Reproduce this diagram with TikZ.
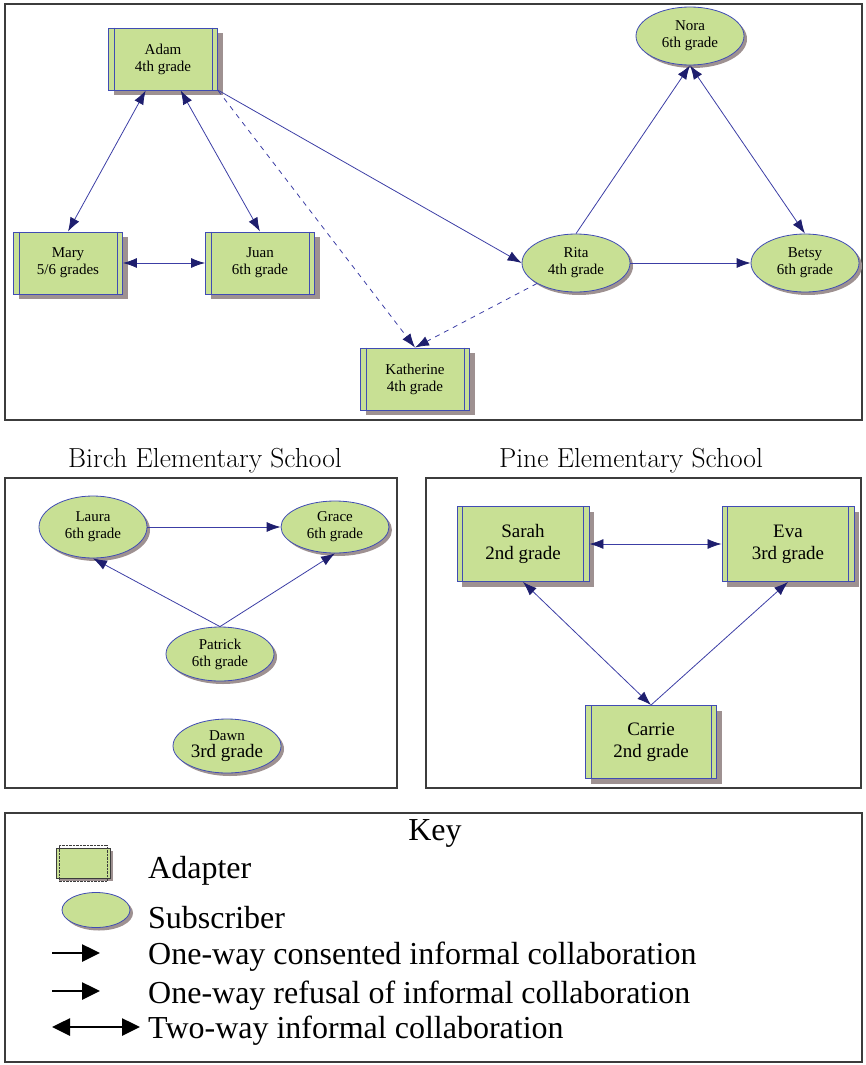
\documentclass[tikz,border=0pt]{standalone}
\usepackage{fontspec}
\newfontfamily\nodefont{Liberation Serif}
\usetikzlibrary{arrows.meta, shapes, shadows, positioning}

\definecolor{leaf}{RGB}{200,224,148}
\definecolor{boxblue}{RGB}{64,76,180}
\definecolor{edgeblue}{RGB}{60,62,165}
\definecolor{tipnavy}{RGB}{30,30,110}
\definecolor{shade}{RGB}{158,145,145}
\definecolor{framegray}{RGB}{60,60,60}

\begin{document}
\begin{tikzpicture}[x=1pt,y=-1pt,>={Latex[length=14pt,width=10pt,color=tipnavy]}]
  \tikzstyle{adapter} = [rectangle, draw=boxblue, line width=0.9pt, fill=leaf, inner sep=0pt,
    minimum width=109pt, minimum height=62pt, align=center,
    font=\nodefont\fontsize{15}{17}\selectfont,
    drop shadow={shadow xshift=5pt, shadow yshift=-5pt, fill=shade, opacity=1},
    append after command={
      ([xshift=6pt]\tikzlastnode.north west) edge[draw=boxblue, line width=0.9pt, -] ([xshift=6pt]\tikzlastnode.south west)
      ([xshift=-6pt]\tikzlastnode.north east) edge[draw=boxblue, line width=0.9pt, -] ([xshift=-6pt]\tikzlastnode.south east)}]
  \tikzstyle{subscriber} = [ellipse, draw=boxblue, line width=0.8pt, fill=leaf, inner sep=1pt,
    minimum width=108pt, minimum height=58pt, align=center,
    font=\nodefont\fontsize{15}{17}\selectfont,
    drop shadow={shadow xshift=3pt, shadow yshift=-3pt, fill=shade, opacity=1}]
  \tikzstyle{link} = [draw=edgeblue, line width=0.8pt]
  \tikzstyle{frame} = [draw=framegray, line width=1.4pt]
  \tikzstyle{title} = [font=\fontsize{27.5}{30}\selectfont]
  \tikzstyle{keytext} = [anchor=west, inner sep=0pt, font=\nodefont\fontsize{32}{34}\selectfont]
  \tikzstyle{keyarrow} = [line width=2.6pt, >={Triangle[length=18pt,width=17pt]}]

  \useasboundingbox (0,0) rectangle (865,1065);

  % panels
  \draw[frame] (5,4) rectangle (862,420);
  \draw[frame] (5,478) rectangle (397,788);
  \draw[frame] (426,478) rectangle (861,788);
  \draw[frame] (5,813) rectangle (862,1062);
  \node[title] (birch) at (205,461) {Birch Elementary School};
  \node[title] (pine) at (631,461) {Pine Elementary School};

  % district
  \node[adapter] (adam) at (163,59) {Adam\\4th grade};
  \node[adapter] (mary) at (68,263) {Mary\\5/6 grades};
  \node[adapter] (juan) at (260,263) {Juan\\6th grade};
  \node[adapter] (katherine) at (415,379) {Katherine\\4th grade};
  \node[subscriber] (rita) at (576,263) {Rita\\4th grade};
  \node[subscriber] (betsy) at (805,263) {Betsy\\6th grade};
  \node[subscriber] (nora) at (690,36) {Nora\\6th grade};

  \path (adam) edge[link, <->] (mary.north)
               edge[link, <->] (juan.north)
               edge[link, ->] (rita.west)
        (adam.south east) edge[link, ->, dash pattern=on 5pt off 5pt] (katherine.north)
        (rita) edge[link, ->, dash pattern=on 5pt off 5pt] (katherine.north)
        (mary.east) edge[link, <->] (juan.west)
        (rita.north) edge[link, ->] (nora.south)
        (nora.south) edge[link, <->] (betsy.north)
        (rita.east) edge[link, ->] (betsy.west);

  % birch
  \node[subscriber, minimum height=62pt] (laura) at (93,527) {Laura\\6th grade};
  \node[subscriber, minimum height=52pt] (grace) at (335,527) {Grace\\6th grade};
  \node[subscriber, minimum height=54pt] (patrick) at (220,654) {Patrick\\6th grade};
  \node[subscriber, minimum height=54pt] (dawn) at (227,746) {Dawn\\{\fontsize{19}{19}\selectfont 3rd grade}};

  \path (laura.east) edge[link, ->] (grace.west)
        (patrick.north) edge[link, ->] (laura.south)
                        edge[link, ->] (grace.south);

  % pine
  \node[adapter, minimum width=132pt, minimum height=75pt, font=\nodefont\fontsize{19}{22}\selectfont] (sarah) at (523,544) {Sarah\\2nd grade};
  \node[adapter, minimum width=132pt, minimum height=75pt, font=\nodefont\fontsize{19}{22}\selectfont] (eva) at (788,544) {Eva\\3rd grade};
  \node[adapter, minimum width=131pt, minimum height=73pt, font=\nodefont\fontsize{19}{22}\selectfont] (carrie) at (651,742) {Carrie\\2nd grade};

  \path (sarah.east) edge[link, <->] (eva.west)
        (sarah.south) edge[link, <->] (carrie.north)
        (carrie.north) edge[link, ->] (eva.south);

  % key
  \node[font=\nodefont\fontsize{32}{34}\selectfont] (key) at (435,833) {Key};
  \node[rectangle, draw=framegray, fill=leaf, minimum width=54pt, minimum height=30pt,
    drop shadow={shadow xshift=3pt, shadow yshift=-3pt, fill=shade, opacity=1}] (adaptericon) at (83,863) {};
  \draw[framegray, densely dotted] ([shift={(3pt,-3pt)}]adaptericon.south west) rectangle ([shift={(-3pt,3pt)}]adaptericon.north east);
  \node[subscriber, minimum width=68pt, minimum height=35pt] (subscribericon) at (96,910) {};
  \node[keytext] (adapterlabel) at (148,871) {Adapter};
  \node[keytext] (subscriberlabel) at (148,918) {Subscriber};
  \node[keytext] (consentlabel) at (148,957) {One-way consented informal collaboration};
  \node[keytext] (refusallabel) at (148,996) {One-way refusal of informal collaboration};
  \node[keytext] (twowaylabel) at (148,1031) {Two-way informal collaboration};

  \coordinate (k1) at (52,953);
  \coordinate (k2) at (52,991);
  \coordinate (k3) at (52,1027);
  \draw[keyarrow, ->] (k1) -- ++(48,0);
  \draw[keyarrow, ->] (k2) -- ++(48,0);
  \draw[keyarrow, <->] (k3) -- ++(88,0);
\end{tikzpicture}
\end{document}
